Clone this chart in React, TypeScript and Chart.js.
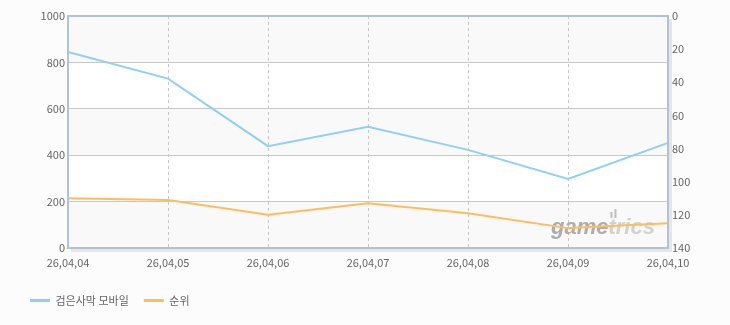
import React, { useEffect, useRef } from "react";
import { Chart, registerables } from "chart.js";

Chart.register(...registerables);

const dates = ["26,04,04", "26,04,05", "26,04,06", "26,04,07", "26,04,08", "26,04,09", "26,04,10"];
const usersLabel = "검은사막 모바일";
const usersValues = [845, 730, 439, 523, 423, 298, 453];
const rankLabel = "순위";
const rankValues = [110, 111, 120, 113, 119, 128, 125];
const leftMax = 1000;
const leftStep = 200;
const rightMax = 140;
const rightStep = 20;

const FONT = "'Noto Sans CJK KR', 'DejaVu Sans', sans-serif";
const TEXT = "#666666";

const bgPlugin = {
  id: "bgBands",
  beforeDraw(chart: any) {
    const { ctx, chartArea: a, scales } = chart;
    ctx.save();
    ctx.fillStyle = "#fcfcfc";
    ctx.fillRect(0, 0, chart.width, chart.height);
    const y = scales.y;
    const ticks = y.ticks;
    for (let i = 0; i < ticks.length - 1; i++) {
      const y0 = y.getPixelForValue(ticks[i].value);
      const y1 = y.getPixelForValue(ticks[i + 1].value);
      ctx.fillStyle = i % 2 === 0 ? "#f9f9f9" : "#ffffff";
      ctx.fillRect(a.left, y1, a.right - a.left, y0 - y1);
    }
    ctx.restore();
  },
  beforeDatasetsDraw(chart: any) {
    const { ctx, chartArea: a } = chart;
    ctx.save();
    ctx.font = `italic bold 22px 'Liberation Sans', 'DejaVu Sans', sans-serif`;
    ctx.textBaseline = "alphabetic";
    const x0 = a.right - 117;
    const yb = a.bottom - 14;
    ctx.fillStyle = "rgba(160,160,160,0.85)";
    ctx.fillText("game", x0, yb);
    const w = ctx.measureText("game").width;
    ctx.fillStyle = "rgba(200,200,200,0.8)";
    ctx.fillText("trics", x0 + w, yb);
    ctx.fillStyle = "rgba(175,175,175,0.8)";
    ctx.fillRect(x0 + w + 2, yb - 22, 2, 6);
    ctx.fillRect(x0 + w + 6, yb - 25, 2, 9);
    ctx.restore();
  },
  afterDatasetsDraw(chart: any) {
    const { ctx, chartArea: a } = chart;
    ctx.save();
    ctx.strokeStyle = "#e6e6e6";
    ctx.lineWidth = 3;
    ctx.beginPath();
    ctx.moveTo(a.right + 2.5, a.top + 3);
    ctx.lineTo(a.right + 2.5, a.bottom + 2.5);
    ctx.lineTo(a.left + 3, a.bottom + 2.5);
    ctx.stroke();
    ctx.strokeStyle = "#b1c2d6";
    ctx.lineWidth = 2;
    ctx.strokeRect(a.left, a.top, a.right - a.left, a.bottom - a.top);
    ctx.restore();
  },
};

export default function App() {
  const ref = useRef<HTMLCanvasElement | null>(null);
  useEffect(() => {
    document.body.style.margin = "0";
    document.body.style.background = "#fcfcfc";
    const canvas = ref.current;
    if (!canvas) return;
    const chart = new Chart(canvas, {
      type: "line",
      data: {
        labels: dates,
        datasets: [
          {
            label: usersLabel,
            data: usersValues,
            yAxisID: "y",
            borderColor: "#8fd1f2",
            backgroundColor: "#8fd1f2",
            borderWidth: 2,
            pointRadius: 0,
            tension: 0,
            fill: false,
          },
          {
            label: rankLabel,
            data: rankValues,
            yAxisID: "y1",
            borderColor: "#ffbd5a",
            backgroundColor: "#ffbd5a",
            borderWidth: 2,
            pointRadius: 0,
            tension: 0,
            fill: false,
          },
        ],
      },
      options: {
        responsive: false,
        animation: false,
        layout: { padding: { left: 15, right: 0, top: 16, bottom: 9 } },
        plugins: {
          tooltip: { enabled: false },
          legend: {
            position: "bottom",
            align: "start",
            labels: {
              boxWidth: 20,
              boxHeight: 3,
              padding: 15,
              color: TEXT,
              font: { family: FONT, size: 11 },
              generateLabels: (c: any) =>
                Chart.defaults.plugins.legend.labels
                  .generateLabels(c)
                  .map((l: any) => ({ ...l, lineWidth: 0 })),
            },
          },
        },
        scales: {
          x: {
            type: "category",
            offset: false,
            afterFit: (s: any) => {
              s.height = 32;
            },
            grid: {
              display: true,
              drawTicks: false,
              color: "#c8c8c8",
              lineWidth: 1,
            },
            border: { display: false, dash: [3, 3] },
            ticks: {
              autoSkip: false,
              maxRotation: 0,
              padding: 8,
              color: TEXT,
              font: { family: FONT, size: 11 },
            },
          },
          y: {
            type: "linear",
            position: "left",
            min: 0,
            max: leftMax,
            afterFit: (s: any) => {
              s.width = 53;
            },
            grid: { color: "#c8c8c8", lineWidth: 1, drawTicks: false },
            border: { display: false },
            ticks: {
              stepSize: leftStep,
              padding: 3,
              color: TEXT,
              font: { family: FONT, size: 11 },
              callback: (v: any) => String(v),
            },
          },
          y1: {
            type: "linear",
            position: "right",
            reverse: true,
            min: 0,
            max: rightMax,
            afterFit: (s: any) => {
              s.width = 62;
            },
            grid: { drawOnChartArea: false, drawTicks: false },
            border: { display: false },
            ticks: {
              stepSize: rightStep,
              padding: 4,
              color: TEXT,
              font: { family: FONT, size: 11 },
              callback: (v: any) => String(v),
            },
          },
        },
      },
      plugins: [bgPlugin],
    } as any);
    return () => chart.destroy();
  }, []);
  return <canvas ref={ref} width={730} height={325} style={{ display: "block" }} />;
}
